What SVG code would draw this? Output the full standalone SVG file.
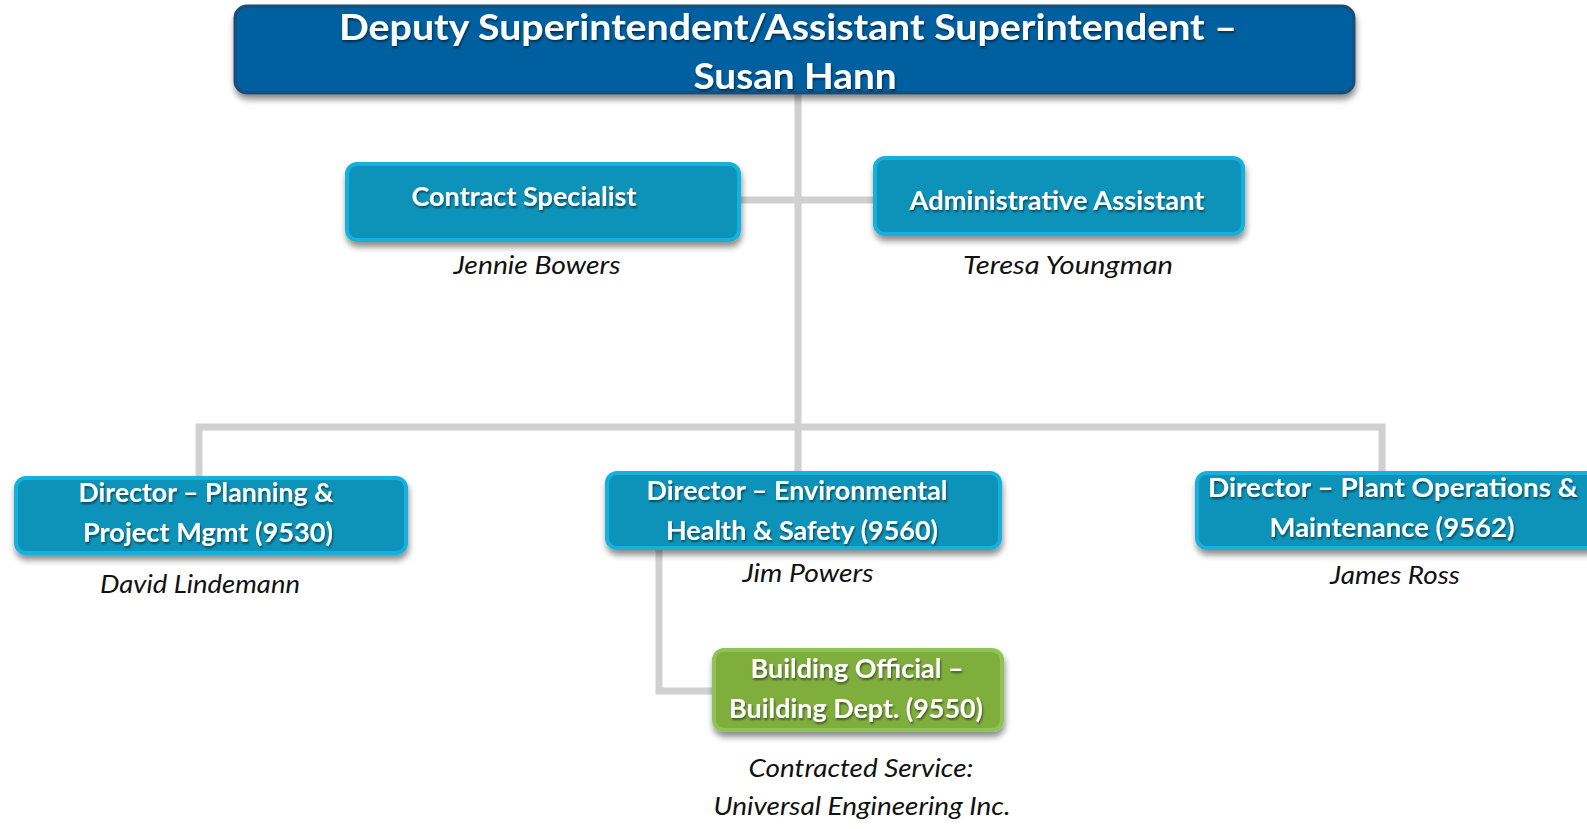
<svg xmlns="http://www.w3.org/2000/svg" width="1587" height="829" viewBox="0 0 1587 829">
  <defs>
    <filter id="sh" x="-10%" y="-20%" width="120%" height="160%">
      <feGaussianBlur in="SourceAlpha" stdDeviation="3"/>
      <feOffset dx="1" dy="5" result="b"/>
      <feComponentTransfer><feFuncA type="linear" slope="0.45"/></feComponentTransfer>
      <feMerge><feMergeNode/><feMergeNode in="SourceGraphic"/></feMerge>
    </filter>
    <filter id="tsh" x="-5%" y="-20%" width="110%" height="150%">
      <feGaussianBlur in="SourceAlpha" stdDeviation="1"/>
      <feOffset dx="1" dy="1.5" result="b"/>
      <feComponentTransfer><feFuncA type="linear" slope="0.5"/></feComponentTransfer>
      <feMerge><feMergeNode/><feMergeNode in="SourceGraphic"/></feMerge>
    </filter>
  </defs>
  <style>
    .box{fill:#0b93b9;stroke:#16b0dc;stroke-width:4}
    .top{fill:#005f9e;stroke:#1c4c74;stroke-width:3}
    .green{fill:#80ae3e;stroke:#8ec452;stroke-width:4}
    .t{font-family:Lato,"Open Sans","Liberation Sans",sans-serif;font-weight:bold;fill:#ffffff;text-anchor:middle}
    .tt{font-size:37px}
    .bt{font-size:26px}
    .n{font-family:Lato,"Open Sans","Liberation Sans",sans-serif;font-style:italic;fill:#111111;text-anchor:middle;font-size:25px}
    .c{stroke:#d0d0d0;stroke-width:7;fill:none}
  </style>
  <rect width="1587" height="829" fill="#ffffff"/>
  <g id="connectors">
    <path class="c" d="M798 93 V473"/>
    <path class="c" d="M739 200 H875"/>
    <path class="c" d="M199 478 V427 H1382 V473"/>
    <path class="c" d="M659 547 V691 H714"/>
  </g>
  <g id="n-deputy" filter="url(#sh)">
    <rect class="top" x="235" y="6" width="1119" height="87" rx="12"/>
    <g filter="url(#tsh)">
      <text class="t tt" x="788" y="40" textLength="898" lengthAdjust="spacingAndGlyphs">Deputy Superintendent/Assistant  Superintendent –</text>
      <text class="t tt" x="795" y="89" textLength="203" lengthAdjust="spacingAndGlyphs">Susan  Hann</text>
    </g>
  </g>
  <g id="n-contract">
    <rect class="box" x="347" y="164" width="392" height="76" rx="10" filter="url(#sh)"/>
    <text class="t bt" x="524" y="206" textLength="225" lengthAdjust="spacingAndGlyphs" filter="url(#tsh)">Contract Specialist</text>
    <text class="n" x="537" y="274" textLength="167" lengthAdjust="spacingAndGlyphs">Jennie Bowers</text>
  </g>
  <g id="n-admin">
    <rect class="box" x="875" y="158" width="368" height="76" rx="10" filter="url(#sh)"/>
    <text class="t bt" x="1057" y="210" textLength="295" lengthAdjust="spacingAndGlyphs" filter="url(#tsh)">Administrative Assistant</text>
    <text class="n" x="1068" y="274" textLength="210" lengthAdjust="spacingAndGlyphs">Teresa Youngman</text>
  </g>
  <g id="n-planning">
    <rect class="box" x="16" y="478" width="390" height="75" rx="10" filter="url(#sh)"/>
    <g filter="url(#tsh)">
      <text class="t bt" x="206" y="502" textLength="255" lengthAdjust="spacingAndGlyphs">Director – Planning &amp;</text>
      <text class="t bt" x="208" y="542" textLength="250" lengthAdjust="spacingAndGlyphs">Project Mgmt  (9530)</text>
    </g>
    <text class="n" x="200" y="593" textLength="200" lengthAdjust="spacingAndGlyphs">David Lindemann</text>
  </g>
  <g id="n-env">
    <rect class="box" x="607" y="473" width="393" height="75" rx="10" filter="url(#sh)"/>
    <g filter="url(#tsh)">
      <text class="t bt" x="797" y="500" textLength="301" lengthAdjust="spacingAndGlyphs">Director – Environmental</text>
      <text class="t bt" x="802" y="540" textLength="272" lengthAdjust="spacingAndGlyphs">Health &amp; Safety (9560)</text>
    </g>
    <text class="n" x="808" y="582" textLength="131" lengthAdjust="spacingAndGlyphs">Jim Powers</text>
  </g>
  <g id="n-plant">
    <rect class="box" x="1197" y="473" width="400" height="75" rx="10" filter="url(#sh)"/>
    <g filter="url(#tsh)">
      <text class="t bt" x="1393" y="497" textLength="370" lengthAdjust="spacingAndGlyphs">Director  –  Plant  Operations  &amp;</text>
      <text class="t bt" x="1392" y="537" textLength="245" lengthAdjust="spacingAndGlyphs">Maintenance  (9562)</text>
    </g>
    <text class="n" x="1395" y="584" textLength="130" lengthAdjust="spacingAndGlyphs">James Ross</text>
  </g>
  <g id="n-building">
    <rect class="green" x="714" y="650" width="288" height="80" rx="10" filter="url(#sh)"/>
    <g filter="url(#tsh)">
      <text class="t bt" x="857" y="678" textLength="213" lengthAdjust="spacingAndGlyphs">Building Official –</text>
      <text class="t bt" x="856" y="718" textLength="254" lengthAdjust="spacingAndGlyphs">Building Dept. (9550)</text>
    </g>
    <text class="n" x="861" y="777" textLength="225" lengthAdjust="spacingAndGlyphs">Contracted Service:</text>
    <text class="n" x="862" y="815" textLength="297" lengthAdjust="spacingAndGlyphs">Universal Engineering Inc.</text>
  </g>
</svg>
